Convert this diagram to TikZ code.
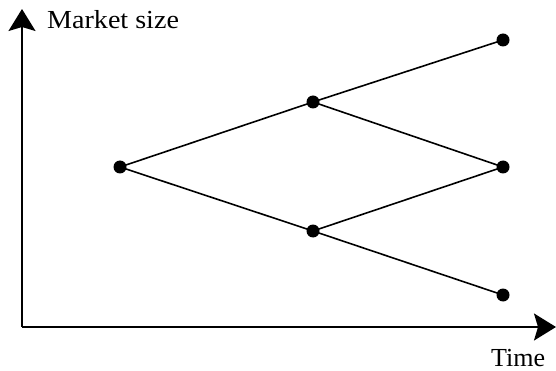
\documentclass[tikz,border=0pt]{standalone}
\usepackage{fontspec}
\setmainfont{Liberation Serif}
\usetikzlibrary{arrows.meta}
\begin{document}
\begin{tikzpicture}[x=1pt,y=-1pt,
  dot/.style={circle,fill=black,inner sep=0pt,minimum size=13pt},
  axis/.style={line width=1.8pt,-{Stealth[length=22pt,width=27pt,inset=4pt]}},
  branch/.style={line width=1.6pt},
  lbl/.style={font=\fontsize{26}{30}\selectfont,inner sep=0pt}]
\useasboundingbox (0,0) rectangle (556,371);
\coordinate (O) at (22,327);
\coordinate (Ytip) at (22,9);
\coordinate (Xtip) at (556,327);
\draw[axis] (O) -- (Ytip);
\draw[axis] (O) -- (Xtip);
\node[lbl,anchor=base west] (ylab) at (47,29) {\scalebox{1.08}[1]{Market size}};
\node[lbl,anchor=base west] (xlab) at (491,366) {Time};
\node[dot] (s) at (120,167) {};
\node[dot] (u) at (313,102) {};
\node[dot] (d) at (313,231) {};
\node[dot] (uu) at (503,40) {};
\node[dot] (ud) at (503,167) {};
\node[dot] (dd) at (503,295) {};
\draw[branch] (s.center) -- (u.center) -- (uu.center);
\draw[branch] (s.center) -- (d.center) -- (dd.center);
\draw[branch] (u.center) -- (ud.center) -- (d.center);
\end{tikzpicture}
\end{document}
